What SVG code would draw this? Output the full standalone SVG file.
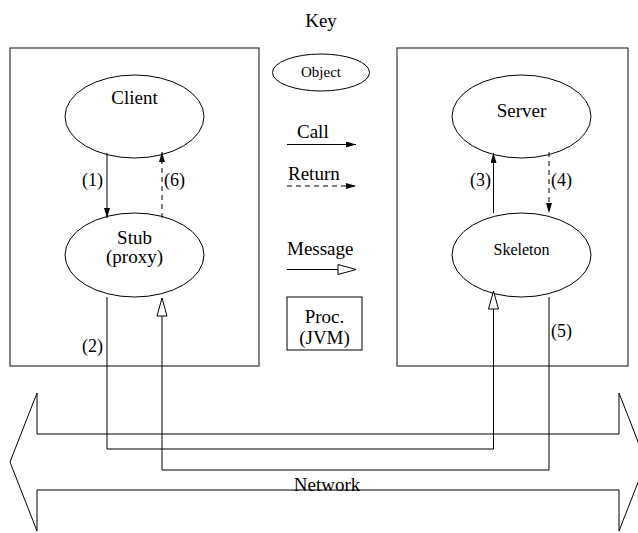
<svg xmlns="http://www.w3.org/2000/svg" width="638" height="533" viewBox="0 0 638 533">
<style>
text{font-family:"Liberation Serif","Times New Roman",serif;fill:#000}
.big{font-size:19px}
.sm{font-size:16px}
.lbl{font-size:18px}
.shape{fill:#fff;stroke:#000;stroke-width:1}
.box{fill:none;stroke:#444;stroke-width:1.3}
.ln{fill:none;stroke:#000;stroke-width:1}
.dash{stroke-dasharray:5,4}
</style>
<defs>
<marker id="fill" viewBox="0 0 10 6" refX="10" refY="3" markerWidth="10" markerHeight="6" markerUnits="userSpaceOnUse" orient="auto">
<path d="M0,0 L10,3 L0,6 Z" fill="#000"/>
</marker>
<marker id="hollow" viewBox="0 0 20 12" refX="19" refY="6" markerWidth="20" markerHeight="12" markerUnits="userSpaceOnUse" orient="auto">
<path d="M1,1 L19,6 L1,11 Z" fill="#fff" stroke="#000" stroke-width="1"/>
</marker>
</defs>
<text class="big" x="321" y="27" text-anchor="middle">Key</text>
<g id="client-jvm"><rect class="box" x="10" y="48" width="249" height="318"/></g>
<g id="server-jvm"><rect class="box" x="397" y="48" width="231" height="318"/></g>
<g id="network">
<path class="ln" d="M37,393 L37,434 L619,434 L619,393 L646,462 L619,531 L619,490 L37,490 L37,531 L10,462 Z"/>
<text class="big" x="327" y="491" text-anchor="middle">Network</text>
</g>
<g id="client"><ellipse class="shape" cx="134.5" cy="116.5" rx="69.5" ry="41.5"/><text class="big" x="134.5" y="104" text-anchor="middle">Client</text></g>
<g id="stub"><ellipse class="shape" cx="134.5" cy="255" rx="69.5" ry="42"/><text class="big" x="134.5" y="244" text-anchor="middle">Stub</text><text class="big" x="134.5" y="263" text-anchor="middle">(proxy)</text></g>
<g id="server"><ellipse class="shape" cx="521.5" cy="116.5" rx="69.5" ry="41.5"/><text class="big" x="521.5" y="117" text-anchor="middle">Server</text></g>
<g id="skeleton"><ellipse class="shape" cx="521.5" cy="255" rx="69.5" ry="42"/><text class="sm" x="521.5" y="255" text-anchor="middle">Skeleton</text></g>
<g id="key-object"><ellipse class="shape" cx="321" cy="72.5" rx="48.5" ry="18.5"/><text class="sm" x="321" y="77" text-anchor="middle" style="font-size:15px">Object</text></g>
<g id="key-proc"><rect class="shape" x="287" y="297" width="75" height="53"/><text class="big" x="324.5" y="323" text-anchor="middle">Proc.</text><text class="big" x="324.5" y="344" text-anchor="middle">(JVM)</text></g>
<g id="key-legend">
<text class="big" x="297" y="138">Call</text>
<line class="ln" x1="287" y1="144.5" x2="356" y2="144.5" marker-end="url(#fill)"/>
<text class="big" x="288" y="180">Return</text>
<line class="ln dash" x1="287" y1="186" x2="356" y2="186" marker-end="url(#fill)"/>
<text class="big" x="287" y="255">Message</text>
<line class="ln" x1="287" y1="269.5" x2="356" y2="269.5" marker-end="url(#hollow)"/>
</g>
<g id="connectors">
<line class="ln" x1="107" y1="153" x2="107" y2="218" marker-end="url(#fill)"/>
<line class="ln dash" x1="162" y1="218" x2="162" y2="152" marker-end="url(#fill)"/>
<line class="ln" x1="493.5" y1="213" x2="493.5" y2="153" marker-end="url(#fill)"/>
<line class="ln dash" x1="549" y1="152" x2="549" y2="213" marker-end="url(#fill)"/>
<path class="ln" d="M107,297 L107,449 L493.5,449 L493.5,291" marker-end="url(#hollow)"/>
<path class="ln" d="M549,297 L549,470 L162,470 L162,298" marker-end="url(#hollow)"/>
<text class="lbl" x="103" y="186" text-anchor="end">(1)</text>
<text class="lbl" x="164" y="186">(6)</text>
<text class="lbl" x="491" y="186" text-anchor="end">(3)</text>
<text class="lbl" x="551" y="186">(4)</text>
<text class="lbl" x="103" y="352" text-anchor="end">(2)</text>
<text class="lbl" x="551" y="337">(5)</text>
</g>
</svg>
